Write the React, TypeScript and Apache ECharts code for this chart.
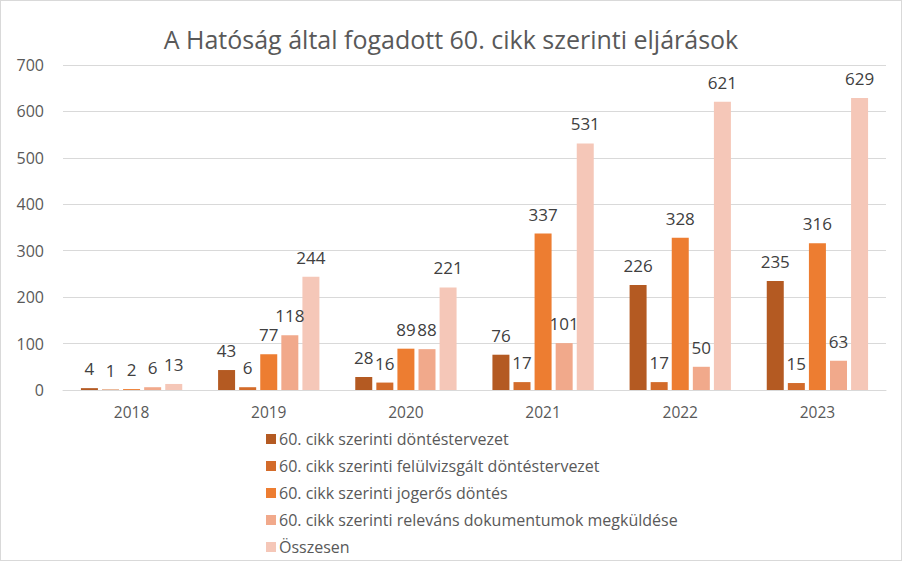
import React, { useEffect, useRef } from "react";
import * as echarts from "echarts";

const years = ["2018", "2019", "2020", "2021", "2022", "2023"];
const seriesNames = [
  "60. cikk szerinti döntéstervezet",
  "60. cikk szerinti felülvizsgált döntéstervezet",
  "60. cikk szerinti jogerős döntés",
  "60. cikk szerinti releváns dokumentumok megküldése",
  "Összesen",
];
const dontestervezet = [4, 43, 28, 76, 226, 235];
const felulvizsgalt = [1, 6, 16, 17, 17, 15];
const jogeros = [2, 77, 89, 337, 328, 316];
const relevans = [6, 118, 88, 101, 50, 63];
const osszesen = [13, 244, 221, 531, 621, 629];
const yTicks = [0, 100, 200, 300, 400, 500, 600, 700];
const colors = ["#B45A22", "#D36B2A", "#ED7D31", "#F1A98B", "#F5C7B8"];

export default function App() {
  const ref = useRef<HTMLDivElement>(null);
  useEffect(() => {
    if (!ref.current) return;
    const chart = echarts.init(ref.current, null, { renderer: "svg" });
    const font = "Open Sans, Noto Sans, sans-serif";
    const data = [dontestervezet, felulvizsgalt, jogeros, relevans, osszesen];
    chart.setOption({
      animation: false,
      textStyle: { fontFamily: font },
      title: {
        text: "A Hatóság által fogadott 60. cikk szerinti eljárások",
        left: "center",
        top: 20,
        textStyle: { fontFamily: font, fontSize: 25, fontWeight: "normal", color: "#595959" },
      },
      grid: { left: 62, right: 15, top: 64, bottom: 170, containLabel: false },
      legend: {
        orient: "vertical",
        left: 260,
        top: 425,
        itemWidth: 10,
        itemHeight: 10,
        itemGap: 11,
        icon: "rect",
        data: seriesNames,
        textStyle: { fontFamily: font, fontSize: 16, color: "#595959", padding: [0, 0, 0, -2] },
      },
      xAxis: {
        type: "category",
        data: years,
        axisTick: { show: false },
        axisLine: { lineStyle: { color: "#D9D9D9", width: 1 } },
        axisLabel: { fontFamily: font, fontSize: 15.5, color: "#595959", margin: 14 },
      },
      yAxis: {
        type: "value",
        min: yTicks[0],
        max: yTicks[yTicks.length - 1],
        interval: 100,
        axisLine: { show: false },
        axisTick: { show: false },
        splitLine: { lineStyle: { color: "#D9D9D9", width: 1 } },
        axisLabel: { fontFamily: font, fontSize: 16, color: "#595959", margin: 19 },
      },
      series: seriesNames.map((name, i) => ({
        name,
        type: "bar",
        data: data[i],
        barWidth: 17,
        barGap: "24%",
        itemStyle: { color: colors[i] },
        label: {
          show: true,
          position: "top",
          distance: 11,
          fontFamily: font,
          fontSize: 17,
          color: "#404040",
        },
      })),
    });
    return () => chart.dispose();
  }, []);
  return (
    <div
      ref={ref}
      style={{
        position: "fixed",
        left: 0,
        top: 0,
        width: 902,
        height: 561,
        boxSizing: "border-box",
        border: "1px solid #D9D9D9",
        background: "#fff",
      }}
    />
  );
}
